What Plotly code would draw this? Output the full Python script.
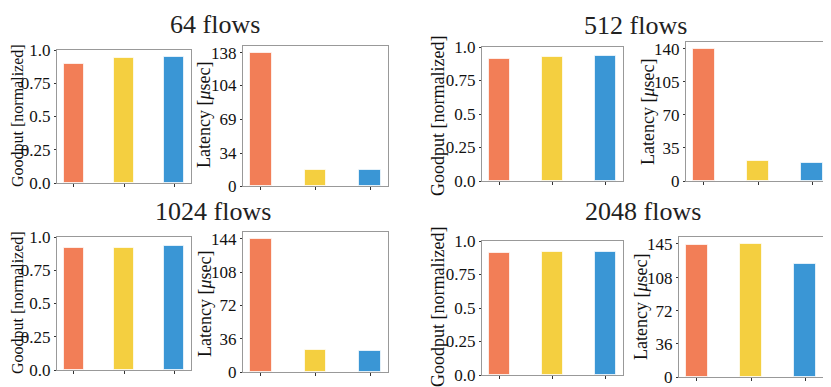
import plotly.graph_objects as go

# three schemes compared (labels are not printed in the original)
schemes = ["Scheme A", "Scheme B", "Scheme C"]
colors = ["#F27E57", "#F4CF40", "#3A96D5"]

titles = ["64 flows", "512 flows", "1024 flows", "2048 flows"]
goodput_label = "Goodput [normalized]"
latency_label = "Latency [<i>μ</i>sec]"

goodput_64 = [0.895, 0.94, 0.95]
goodput_512 = [0.913, 0.928, 0.933]
goodput_1024 = [0.92, 0.918, 0.93]
goodput_2048 = [0.913, 0.916, 0.918]

latency_64 = [138, 16.3, 17]
latency_512 = [140, 20.7, 19]
latency_1024 = [144, 23.6, 22.5]
latency_2048 = [143.9, 144.3, 123.3]

goodput_ticks = [0.0, 0.25, 0.5, 0.75, 1.0]
goodput_ticktext = ["0.0", "0.25", "0.5", "0.75", "1.0"]
latency_ticks_64 = [0, 34, 69, 104, 138]
latency_ticks_512 = [0, 35, 70, 105, 140]
latency_ticks_1024 = [0, 36, 72, 108, 144]
latency_ticks_2048 = [0, 36, 72, 108, 145]

goodputs = [goodput_64, goodput_512, goodput_1024, goodput_2048]
latencies = [latency_64, latency_512, latency_1024, latency_2048]
latency_ticks = [latency_ticks_64, latency_ticks_512, latency_ticks_1024, latency_ticks_2048]

# the page body adds an 8px margin, so the figure is a bit smaller and shifted
OFF = 8
W, H = 831 - OFF, 387 - OFF
# pixel boxes in the window (left, right, top, bottom) for each panel
boxes = [
    (57, 191, 50, 183), (243, 388, 46, 186),
    (482, 623, 47, 181), (686, 830, 42, 181),
    (57, 191, 237, 370), (243, 388, 232, 372),
    (482, 623, 241, 375), (679, 823, 237, 377),
]
# centre of each y-axis title, and its font size
ytitle_pos = [
    (18, 116, 16), (204, 115, 18),
    (438, 116, 18), (648, 112, 18),
    (18, 303, 16), (205, 304, 18),
    (438, 307, 18), (641, 307, 18),
]
# (x centre, top) of panel titles
title_pos = [(215, 8), (635, 9), (213, 195), (643, 195)]

FONT = "Liberation Serif, DejaVu Serif, serif"


def px(v):
    return (v - OFF) / W


def py(v):
    return 1 - (v - OFF) / H


fig = go.Figure()
layout = {}
annotations = []
for g in range(4):
    for k in range(2):
        idx = 2 * g + k
        n = idx + 1
        sfx = "" if n == 1 else str(n)
        vals = goodputs[g] if k == 0 else latencies[g]
        fig.add_trace(go.Bar(
            x=schemes, y=vals,
            marker=dict(color=colors, line=dict(color="rgba(255,255,255,0.7)", width=1)),
            width=0.4,
            xaxis="x" + sfx, yaxis="y" + sfx,
            showlegend=False,
        ))
        l, r, t, b = boxes[idx]
        layout["xaxis" + sfx] = dict(
            domain=[max(px(l), 0), min(px(r), 1)], anchor="y" + sfx, automargin=False,
            range=[-0.33, 2.33], showticklabels=False,
            ticks="outside", ticklen=3, tickcolor="#333",
            showline=True, mirror=True, linecolor="#999", linewidth=1,
            showgrid=False, zeroline=False,
        )
        if k == 0:
            yr = [0, 1]
            tv = goodput_ticks
            tt = goodput_ticktext
            ttl = goodput_label
        else:
            tv = latency_ticks[g]
            yr = [0, tv[-1] * 1.05]
            tt = [str(v) for v in tv]
            ttl = latency_label
        layout["yaxis" + sfx] = dict(
            domain=[max(py(b), 0), min(py(t), 1)], anchor="x" + sfx, automargin=False,
            range=yr, tickvals=tv, ticktext=tt,
            ticks="outside", ticklen=2, tickcolor="#333",
            tickfont=dict(family=FONT, size=17, color="#111"),
            showline=True, mirror=True, linecolor="#999", linewidth=1,
            showgrid=False, zeroline=False,
        )
        tx, ty, ts = ytitle_pos[idx]
        annotations.append(dict(
            text=ttl, x=px(tx), y=py(ty), xref="paper", yref="paper",
            textangle=-90, showarrow=False, xanchor="center", yanchor="middle",
            font=dict(family=FONT, size=ts, color="#111"),
        ))

for g in range(4):
    cx, cy = title_pos[g]
    annotations.append(dict(
        text=titles[g], x=px(cx), y=py(cy), xref="paper", yref="paper",
        showarrow=False, xanchor="center", yanchor="top",
        font=dict(family=FONT, size=26, color="#222"),
    ))

fig.update_layout(
    **layout,
    annotations=annotations,
    width=W, height=H,
    margin=dict(l=0, r=0, t=0, b=0),
    plot_bgcolor="white", paper_bgcolor="white",
    bargap=0,
)
fig.write_html("out.html")
